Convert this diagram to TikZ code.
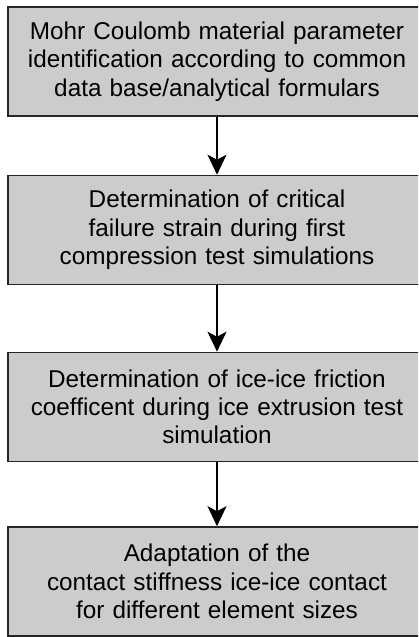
\documentclass[tikz,border=0pt]{standalone}
\usepackage{fontspec}
\setmainfont{Liberation Sans}
\usetikzlibrary{arrows.meta}
\begin{document}
\begin{tikzpicture}[x=1pt,y=-1pt,
  stepbox/.style={draw=black!85, line width=1.6pt, fill=black!20, minimum width=418pt, minimum height=109pt, inner sep=0pt, align=center, text width=410pt, font=\fontsize{24.3}{28.3}\selectfont},
  conn/.style={line width=1.3pt, -{Stealth[length=20pt, width=19pt, inset=5pt]}}]
\clip (0,0) rectangle (418,637);
\useasboundingbox (0,0) rectangle (418,637);
\node[stepbox] (a) at (217,61.5) {Mohr Coulomb material parameter\\identification according to common\\data base/analytical formulars};
\node[stepbox] (b) at (217,230) {Determination of critical\\failure strain during first\\compression test simulations};
\node[stepbox] (c) at (217,407) {Determination of ice-ice friction\\coefficent during ice extrusion test\\simulation};
\node[stepbox] (d) at (217,581.5) {Adaptation of the\\contact stiffness ice-ice contact\\for different element sizes};
\draw[conn] (a.south) -- (b.north);
\draw[conn] (b.south) -- (c.north);
\draw[conn] (c.south) -- (d.north);
\end{tikzpicture}
\end{document}
